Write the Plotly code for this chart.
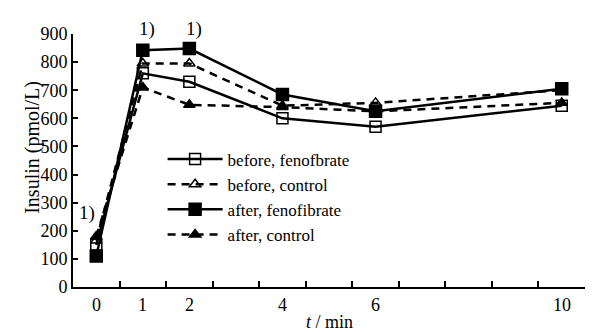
import plotly.graph_objects as go

t_min = [0, 1, 2, 4, 6, 10]
before_fenofibrate = [150, 760, 730, 600, 570, 645]
before_control = [165, 795, 795, 645, 655, 700]
after_fenofibrate = [110, 842, 848, 685, 625, 705]
after_control = [180, 710, 648, 640, 625, 655]

x_tick_vals = [0, 1, 2, 4, 6, 10]
x_tick_text = ["0", "1", "2", "4", "6", "10"]
x_minor_ticks = [0.5, 1.5, 2.5, 3.5, 4.5, 5.5, 6.5, 7.5, 8.5, 9.5, 10.5]
y_tick_vals = [0, 100, 200, 300, 400, 500, 600, 700, 800, 900]
sig_x = [1, 2]
sig_t0_x = -0.2
sig_t0_y = 265

FONT = "Liberation Serif"

fig = go.Figure()
series = [
    ("before, fenofbrate", before_fenofibrate, "solid", "square-open", 11),
    ("before, control", before_control, "8px,6px", "triangle-up-open", 10),
    ("after, fenofibrate", after_fenofibrate, "solid", "square", 12),
    ("after, control", after_control, "8px,6px", "triangle-up", 10),
]
for name, ys, dash, sym, size in series:
    fig.add_trace(go.Scatter(
        x=t_min, y=ys, name=name, mode="lines+markers",
        line=dict(color="black", width=2.5, dash=dash),
        marker=dict(symbol=sym, size=size, color="black",
                    line=dict(color="black", width=1.5)),
        cliponaxis=False,
    ))

for xv in sig_x:
    fig.add_annotation(x=xv + 0.1, xref="x", y=1.07, yref="paper", text="1)",
                       showarrow=False, font=dict(family=FONT, size=19, color="black"))
fig.add_annotation(x=sig_t0_x, y=sig_t0_y, text="1)", showarrow=False,
                   font=dict(family=FONT, size=19, color="black"))

# x tick labels (no tick marks at labelled positions)
for xv, txt in zip(x_tick_vals, x_tick_text):
    fig.add_annotation(x=xv, xref="x", y=-0.025, yref="paper", yanchor="top",
                       text=txt, showarrow=False,
                       font=dict(family=FONT, size=18, color="black"))
fig.add_annotation(x=0.5, xref="paper", y=-0.09, yref="paper", yanchor="top",
                   text="<i>t</i> / min", showarrow=False,
                   font=dict(family=FONT, size=18, color="black"))
fig.add_annotation(x=-0.107, xref="paper", y=0.553, yref="paper", textangle=-90,
                   text="Insulin (pmol/L)", showarrow=False,
                   font=dict(family=FONT, size=20, color="black"))

fig.update_layout(
    width=597, height=332,
    margin=dict(l=73, r=12, t=34, b=45, autoexpand=False),
    paper_bgcolor="white", plot_bgcolor="white",
    font=dict(family=FONT, size=17, color="black"),
    showlegend=True,
    legend=dict(x=0.175, y=0.575, xanchor="left", yanchor="top",
                bgcolor="rgba(0,0,0,0)", font=dict(family=FONT, size=17),
                tracegroupgap=0, itemwidth=55),
    xaxis=dict(range=[-0.5, 10.5], tickmode="array", tickvals=x_minor_ticks,
               ticktext=[""] * len(x_minor_ticks), ticks="inside", ticklen=6,
               tickwidth=2, tickcolor="black", showgrid=False, zeroline=False,
               showline=True, linecolor="black", linewidth=2, automargin=False),
    yaxis=dict(range=[0, 900], tickvals=y_tick_vals, ticks="inside",
               ticklen=5, tickwidth=2, tickcolor="black", showgrid=False,
               zeroline=False, showline=True, linecolor="black", linewidth=2,
               automargin=False, tickfont=dict(family=FONT, size=18)),
)

fig.write_html("out.html", config={"displayModeBar": False},
               post_script="document.body.style.margin='0';document.body.style.overflow='hidden';")
